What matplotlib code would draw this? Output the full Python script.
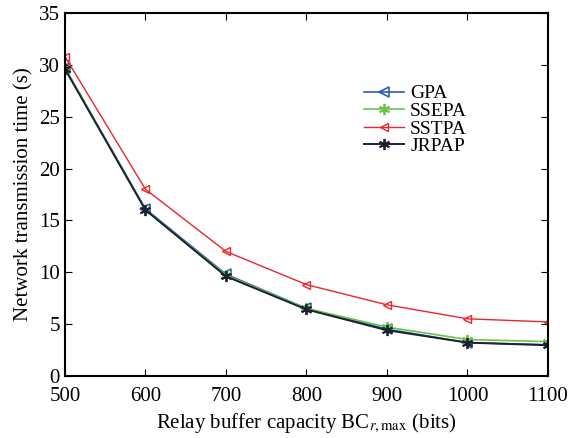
import matplotlib
matplotlib.use("Agg")
import matplotlib.pyplot as plt

plt.rcParams["font.family"] = ["Liberation Serif", "DejaVu Serif"]
plt.rcParams["mathtext.fontset"] = "stix"

buffer_cap = [500, 600, 700, 800, 900, 1000, 1100]
gpa = [29.7, 16.1, 9.8, 6.5, 4.5, 3.2, 3.0]
ssepa = [29.7, 16.0, 9.7, 6.5, 4.7, 3.5, 3.3]
sstpa = [30.8, 18.0, 12.0, 8.8, 6.85, 5.5, 5.2]
jrpap = [29.6, 16.0, 9.6, 6.4, 4.4, 3.2, 2.95]

fig = plt.figure(figsize=(5.75, 4.38), dpi=100)
ax = fig.add_axes([0.113, 0.142, 0.840, 0.828])

asterisk = (6, 2, 0)
ax.plot(buffer_cap, gpa, color="#2a5db0", marker="<", markersize=7,
        markerfacecolor="none", markeredgewidth=1.2, linewidth=1.2, label="GPA")
ax.plot(buffer_cap, ssepa, color="#6cc24a", marker=asterisk, markersize=8,
        markeredgewidth=1.3, linewidth=1.2, label="SSEPA")
ax.plot(buffer_cap, sstpa, color="#e8262b", marker="<", markersize=6,
        markerfacecolor="none", markeredgewidth=1.0, linewidth=1.0, label="SSTPA")
ax.plot(buffer_cap, jrpap, color="#1e2230", marker=asterisk, markersize=8,
        markeredgewidth=1.3, linewidth=1.4, label="JRPAP")

ax.set_xlim(500, 1100)
ax.set_ylim(0, 35)
ax.set_xticks(buffer_cap)
ax.set_yticks(range(0, 36, 5))
ax.tick_params(direction="in", top=True, right=True, labelsize=15, length=5)
ax.tick_params(axis="x", pad=8)
for s in ax.spines.values():
    s.set_linewidth(1.5)

ax.set_xlabel(r"Relay buffer capacity BC$_{r,\mathrm{max}}$ (bits)", fontsize=15)
ax.set_ylabel("Network transmission time (s)", fontsize=15)

ax.legend(loc="upper left", bbox_to_anchor=(0.59, 0.84), frameon=False,
          fontsize=14, handlelength=2.1, labelspacing=0.0, handletextpad=0.3,
          borderpad=0.2)

fig.savefig("out.png", dpi=100)
